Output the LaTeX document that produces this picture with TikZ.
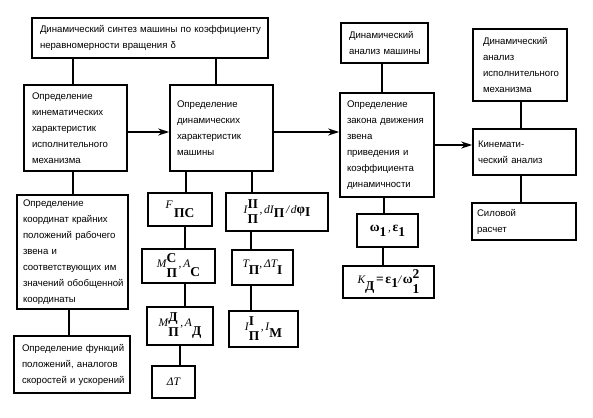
\documentclass[tikz,border=0pt]{standalone}
\usepackage{fontspec}
\setmainfont{Liberation Sans}
\newfontfamily\serifrm{Liberation Serif}
\usetikzlibrary{arrows.meta}

% formula parts: small italic letters, large bold indices
\newcommand{\vi}[1]{{\serifrm\itshape\fontsize{11.5}{12}\selectfont #1}}
\newcommand{\vb}[1]{{\serifrm\bfseries\fontsize{13.5}{14}\selectfont #1}}
\newcommand{\ixdn}[2][9pt]{\raisebox{-#1}{\vb{#2}}}
\newcommand{\ixud}[2]{\rlap{\raisebox{5pt}{\vb{#1}}}\raisebox{-10pt}{\vb{#2}}}

\tikzset{
  blk/.style={draw, line width=1.6pt, inner xsep=3pt, inner ysep=2pt},
  % width, height, text width, left pad
  txt/.style n args={4}{blk, inner xsep=1pt, minimum width=#1, minimum height=#2, text width=#3,
    align=left, font=\fontsize{9.6}{16}\selectfont, execute at begin node={\leftskip=#4}},
  frm/.style 2 args={blk, minimum width=#1, minimum height=#2, font=\fontsize{10}{13}\selectfont},
  con/.style={line width=1.6pt},
  arr/.style={line width=1.6pt, -{Stealth[length=11pt,width=7pt]}},
}

\begin{document}
\begin{tikzpicture}[x=1pt,y=-1pt]%
  \useasboundingbox (0,0) rectangle (593,417);%
  % text boxes
  \node[txt={236pt}{40pt}{234pt}{7pt}] (synth) at (150,38) {Динамический синтез машины по коэффициенту\\неравномерности вращения δ};%
  \node[txt={103pt}{86pt}{101pt}{7pt}] (kinchar) at (75.5,128) {Определение\\кинематических\\характеристик\\исполнительного\\механизма};%
  \node[txt={103pt}{86pt}{101pt}{6pt}] (dynchar) at (221.5,128) {Определение\\динамических\\характеристик\\машины};%
  \node[txt={87pt}{40pt}{85pt}{7pt}] (dynan) at (384.5,43) {Динамический\\анализ машины};%
  \node[txt={94pt}{104pt}{92pt}{6pt}] (law) at (387,145) {Определение\\закона движения\\звена\\приведения и\\коэффициента\\динамичности};%
  \node[txt={94pt}{72pt}{92pt}{9pt}] (dynmech) at (520,65) {Динамический\\анализ\\исполнительного\\механизма};%
  \node[txt={103pt}{46pt}{101pt}{4pt}] (kinan) at (524.5,152) {Кинемати-\\ческий анализ};%
  \node[txt={104pt}{37pt}{102pt}{4pt}] (force) at (524,221.5) {Силовой\\расчет};%
  \node[txt={111pt}{114pt}{109pt}{5pt}] (coord) at (72.5,252) {Определение\\координат крайних\\положений рабочего\\звена и\\соответствующих им\\значений обобщенной\\координаты};%
  \node[txt={116pt}{57pt}{114pt}{7pt}] (func) at (72,364.5) {Определение функций\\положений, аналогов\\скоростей и ускорений};%
  % formula boxes
  \node[frm={64pt}{33pt}] (fps) at (180,209.5) {\vi{F}\,\ixdn{ПС}};%
  \node[frm={73pt}{34pt}] (mc) at (178.5,266) {\vi{M}\ixud{С}{П}\,\vi{,}\,\vi{A}\ixdn{С}};%
  \node[frm={66pt}{38pt}] (md) at (180,326) {\vi{M}\ixud{Д}{П}\,\vi{,}\,\vi{A}\ixdn{Д}};%
  \node[frm={43pt}{32pt}] (dT) at (173.5,382) {\vi{ΔT}};%
  \node[frm={102pt}{38pt}] (iII) at (277,212) {\vi{I}\ixud{II}{П}\,\vi{,}\,\vi{dI}\ixdn[4pt]{П}\,\vi{/}\,\vi{d}\vb{φ}\ixdn[3pt]{I}};%
  \node[frm={61pt}{35pt}] (tp) at (262.5,267.5) {\vi{T}\ixdn[7pt]{П}\vi{,}\,\vi{ΔT}\ixdn[7pt]{I}};%
  \node[frm={69pt}{36pt}] (iI) at (263.5,329) {\vi{I}\ixud{I}{П}\,\vi{,}\,\vi{I}\ixdn[7pt]{М}};%
  \node[frm={61pt}{33pt}] (om) at (387.5,230.5) {\vb{ω}\ixdn[5pt]{1}\,\vi{,}\,\vb{ε}\ixdn[5pt]{1}};%
  \node[frm={91pt}{32pt}] (kd) at (388.5,282) {\vi{K}\ixdn[7pt]{Д}\,\vb{=}\,\vb{ε}\ixdn[4pt]{1}\vi{/}\,\vb{ω}\ixud{2}{1}};%
  % connectors
  \draw[con] ([xshift=-2.5pt]kinchar.north |- synth.south) -- ([xshift=-2.5pt]kinchar.north);%
  \draw[con] ([xshift=-5.5pt]dynchar.north |- synth.south) -- ([xshift=-5.5pt]dynchar.north);%
  \draw[con] ([xshift=-2.5pt]dynan.south) -- ([xshift=-2.5pt]dynan.south |- law.north);%
  \draw[con] ([xshift=1pt]dynmech.south) -- ([xshift=1pt]dynmech.south |- kinan.north);%
  \draw[con] ([xshift=1pt]dynmech.south |- kinan.south) -- ([xshift=1pt]dynmech.south |- force.north);%
  \draw[con] ([xshift=-2.5pt]kinchar.south) -- ([xshift=-2.5pt]kinchar.south |- coord.north);%
  \draw[con] ([xshift=-3pt]func.north |- coord.south) -- ([xshift=-3pt]func.north);%
  \draw[con] ([xshift=6pt]fps.north |- dynchar.south) -- ([xshift=6pt]fps.north);%
  \draw[con] ([xshift=5pt]fps.south) -- ([xshift=5pt]fps.south |- mc.north);%
  \draw[con] ([xshift=5pt]fps.south |- mc.south) -- ([xshift=5pt]fps.south |- md.north);%
  \draw[con] (md.south) -- (md.south |- dT.north);%
  \draw[con] ([xshift=-25pt]iII.north |- dynchar.south) -- ([xshift=-25pt]iII.north);%
  \draw[con] ([xshift=-11.5pt]tp.north |- iII.south) -- ([xshift=-11.5pt]tp.north);%
  \draw[con] ([xshift=-11.5pt]tp.south) -- ([xshift=-11.5pt]tp.south |- iI.north);%
  \draw[con] ([xshift=-3.5pt]om.north |- law.south) -- ([xshift=-3.5pt]om.north);%
  \draw[con] ([xshift=-4.5pt]om.south) -- ([xshift=-4.5pt]om.south |- kd.north);%
  % arrows
  \draw[arr] ([yshift=-4pt]kinchar.east) -- ([yshift=-4pt]kinchar.east -| dynchar.west);%
  \draw[arr] ([yshift=-4pt]dynchar.east) -- ([yshift=-4pt]dynchar.east -| law.west);%
  \draw[arr] (law.east) -- (law.east -| kinan.west);%
\end{tikzpicture}
\end{document}
